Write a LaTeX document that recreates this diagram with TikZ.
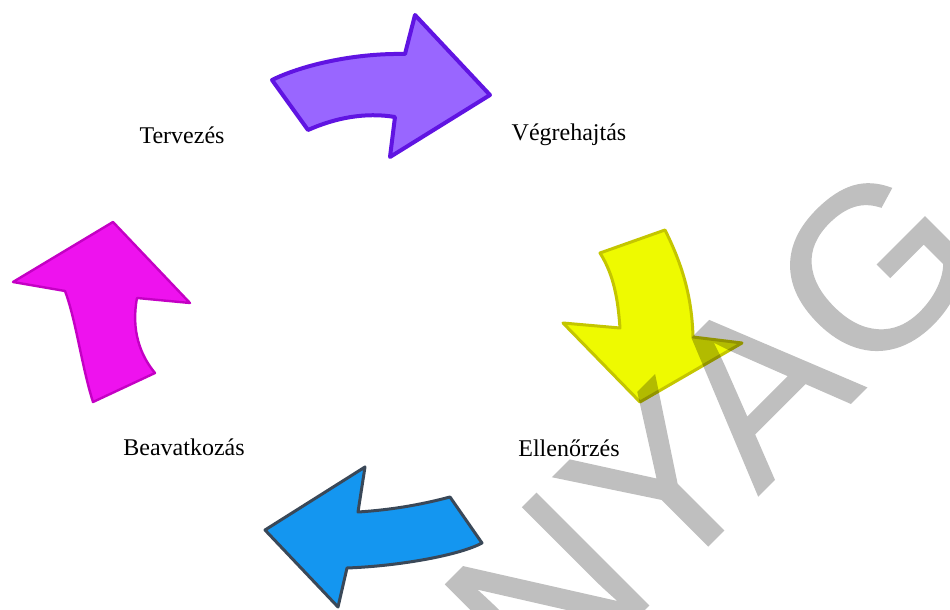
\documentclass[tikz,border=0pt]{standalone}
\usepackage{fontspec}
\setmainfont{Liberation Serif}
\newfontfamily\wmfont[FakeBold=0.6]{Liberation Sans}
\definecolor{lilafill}{RGB}{153,102,255}
\definecolor{liladraw}{RGB}{96,20,226}
\definecolor{magfill}{RGB}{238,18,238}
\definecolor{magdraw}{RGB}{196,0,196}
\definecolor{sargafill}{RGB}{238,250,0}
\definecolor{sargadraw}{RGB}{196,198,0}
\definecolor{kekfill}{RGB}{20,150,240}
\definecolor{kekdraw}{RGB}{58,72,88}

\begin{document}
\begin{tikzpicture}[
  x=0.5pt,y=-0.5pt,
  line cap=round,
  line join=round,
  blockarrow/.style={line width=1.5pt},
  lbl/.style={font=\fontsize{12}{14}\selectfont,inner sep=1pt},
  watermark/.style={font=\wmfont\fontsize{115}{115}\selectfont,
    text=black,inner sep=0pt}
]

% page frame
\useasboundingbox (0,0) rectangle (950,610);
\fill[white] (0,0) rectangle (950,610);
\clip (0,0) rectangle (950,610);

% 1. Tervezes -> Vegrehajtas
\begin{scope}
  \coordinate (P0) at (272,80);
  \coordinate (Ptip) at (490,95);
  \draw[blockarrow,draw=liladraw,fill=lilafill,line width=2pt]
    (P0) .. controls (300,66) and (352,53) .. (405,54)
    -- (415,15) -- (Ptip) -- (390,157) -- (395,117)
    .. controls (365,112) and (335,118) .. (308,130) -- cycle;
\end{scope}

% 2. Vegrehajtas -> Ellenorzes
\begin{scope}
  \coordinate (S0) at (600,253);
  \coordinate (Stip) at (640,402);
  \draw[blockarrow,draw=sargadraw,fill=sargafill]
    (S0) -- (665,230)
    .. controls (684,268) and (692,300) .. (693,337)
    -- (742,343) -- (Stip) -- (563,323) -- (620,328)
    .. controls (618,300) and (614,275) .. cycle;
\end{scope}

% 3. Ellenorzes -> Beavatkozas
\begin{scope}
  \coordinate (K0) at (450,497);
  \coordinate (Ktip) at (265,530);
  \draw[blockarrow,draw=kekdraw,fill=kekfill]
    (K0) -- (482,543)
    .. controls (460,555) and (400,566) .. (347,568)
    -- (338,607) -- (Ktip) -- (365,467) -- (358,512)
    .. controls (390,510) and (420,505) .. cycle;
\end{scope}

% 4. Beavatkozas -> Tervezes
\begin{scope}
  \coordinate (M0) at (93,402);
  \coordinate (Mtip) at (113,222);
  \draw[blockarrow,draw=magdraw,fill=magfill,line width=1.2pt]
    (M0) .. controls (82,368) and (76,320) .. (65,291)
    -- (13,282) -- (Mtip) -- (190,303) -- (137,298)
    .. controls (131,330) and (140,355) .. (155,373) -- cycle;
\end{scope}

% cycle steps
\node[lbl] (terv)  at (182,135) {Tervezés};
\node[lbl] (vegre) at (569,135) {Végrehajtás};
\node[lbl] (ellen) at (569,448) {Ellenőrzés};
\node[lbl] (beav)  at (184,447) {Beavatkozás};

% watermark
\begin{scope}[transparency group,opacity=0.25]
  \node[watermark,rotate=45,anchor=base west] (wm) at (544,710) {NYAG};
\end{scope}

\end{tikzpicture}
\end{document}
